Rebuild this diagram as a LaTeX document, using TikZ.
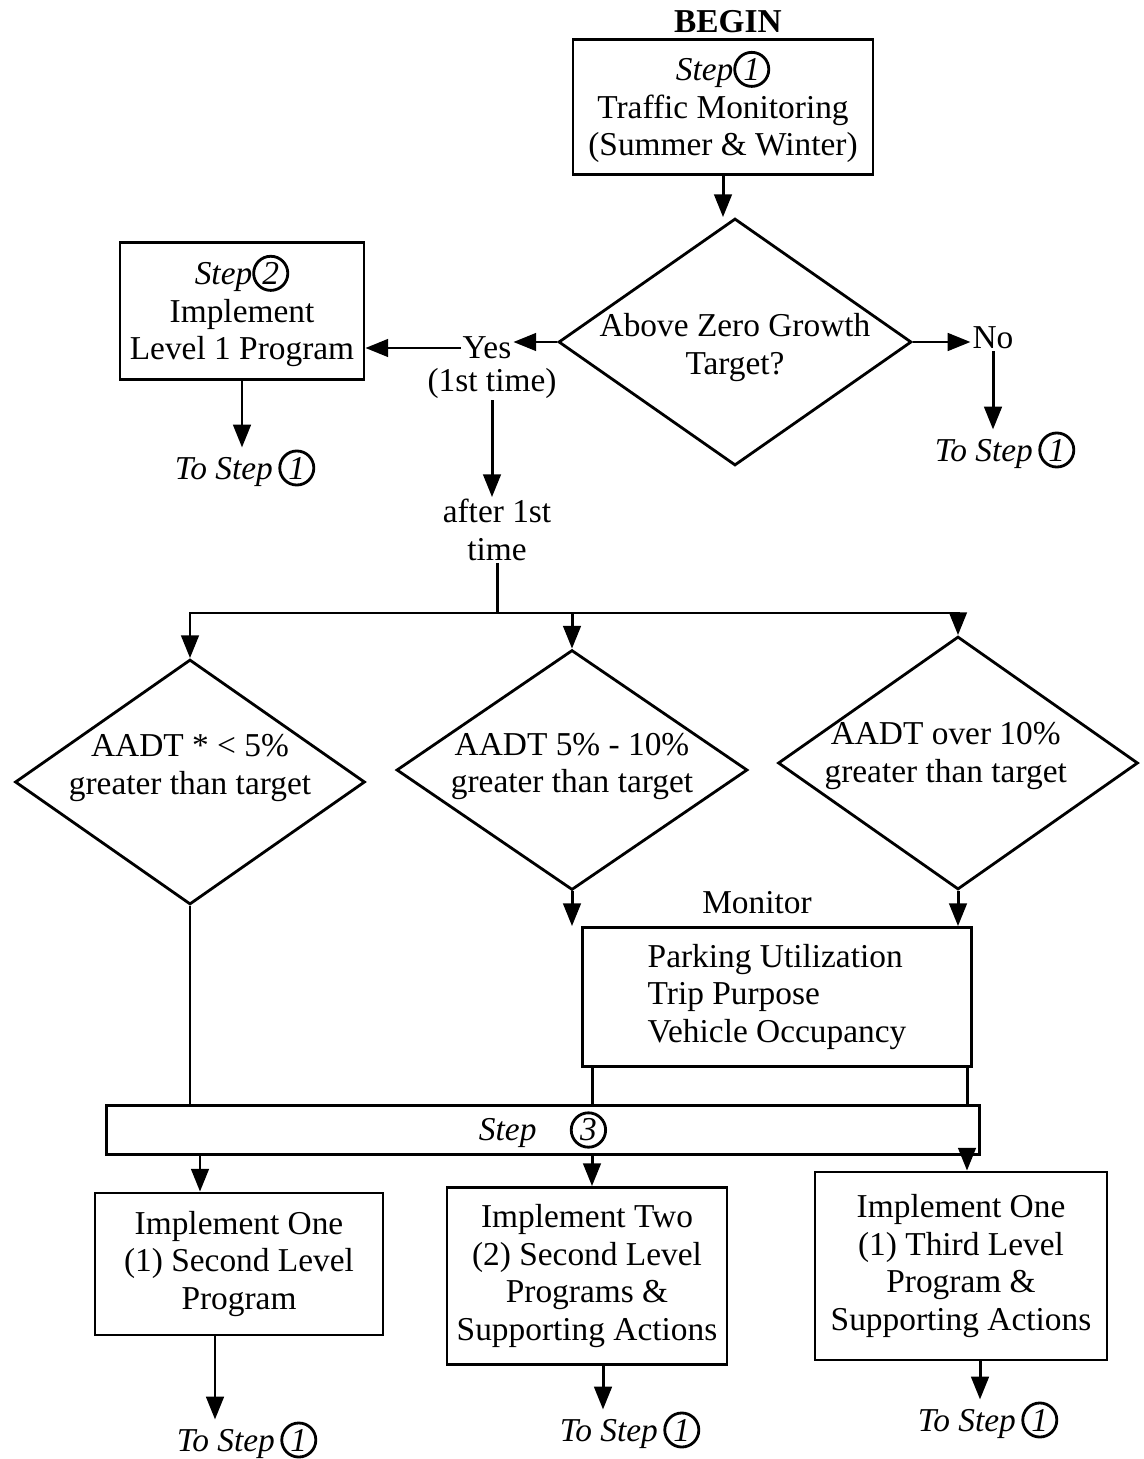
\documentclass[tikz,border=0pt]{standalone}
\usepackage{fontspec}
\setmainfont{Liberation Serif}
\usetikzlibrary{shapes.geometric,arrows.meta,calc}

\newcommand{\stepnum}[1]{\tikz[baseline=(num.base)]\node[draw,circle,line width=1.6pt,inner sep=1.3pt,minimum width=0pt,minimum height=0pt](num){\textit{#1}};}

\begin{document}
\begin{tikzpicture}[x=0.02cm,y=-0.02cm,font=\fontsize{19}{21.5}\selectfont]
        \tikzstyle{stepbox} = [draw, line width=1.6pt, align=center, inner sep=2pt]
        \tikzstyle{decision} = [draw, diamond, line width=1.6pt, inner sep=0pt]
        \tikzstyle{lbl} = [align=center, inner sep=1pt]
        \tikzstyle{line} = [line width=1.7pt]
        \tikzstyle{arr} = [line width=1.7pt, -{Triangle[length=13pt,width=10pt]}]
        \useasboundingbox (0,0) rectangle (1143,1459);

        % top part
        \node[lbl, font=\fontsize{19}{21.5}\selectfont\bfseries] (begin) at (728,22) {BEGIN};
        \node[stepbox, minimum width=6cm, minimum height=2.7cm] (traffic) at (723,107)
            {\textit{Step}\stepnum{1}\\Traffic Monitoring\\(Summer \& Winter)};
        \node[decision, minimum width=7.06cm, minimum height=4.94cm,
            label={[lbl,yshift=-3pt]center:{Above Zero Growth\\Target?}}] (target) at (735,342) {};
        \node[stepbox, minimum width=4.88cm, minimum height=2.74cm] (level1) at (242,311)
            {\textit{Step}\stepnum{2}\\Implement\\Level 1 Program};
        \node[lbl] (yes) at (487,348) {Yes};
        \node[lbl] (first) at (492,383) {(1st time)};
        \node[lbl] (no) at (993,338) {No};
        \node[lbl] (tolevel) at (245,468) {\textit{To Step}\,\stepnum{1}};
        \node[lbl] (tono) at (1005,450) {\textit{To Step}\,\stepnum{1}};
        \node[lbl] (after) at (497,530) {after 1st\\time};
        \coordinate (split) at (497,613);

        \draw[arr] (traffic.south) -- (traffic.south |- target.north);
        \draw[arr] (target.west) -- (target.west -| yes.east);
        \draw[arr] (yes.west) -- (yes.west -| level1.east);
        \draw[arr] (target.east) -- (target.east -| no.west);
        \draw[arr] (no.south) -- (no.south |- tono.north);
        \draw[arr] (level1.south) -- (level1.south |- tolevel.north);
        \draw[arr] (first.south) -- (first.south |- after.north);

        % three growth cases
        \node[decision, minimum width=7cm, minimum height=4.9cm,
            label={[lbl,yshift=8pt]center:{AADT * < 5\%\\greater than target}}] (dlow) at (190,782) {};
        \node[decision, minimum width=7.02cm, minimum height=4.8cm,
            label={[lbl,yshift=2pt]center:{AADT 5\% - 10\%\\greater than target}}] (dmid) at (572,770) {};
        \node[decision, minimum width=7.2cm, minimum height=5.06cm,
            label={[lbl,yshift=4pt,xshift=-7pt]center:{AADT over 10\%\\greater than target}}] (dhigh) at (958,763) {};

        \draw[line] (after.south) -- (split);
        \draw[arr] (split) -| (dlow.north);
        \draw[arr] (split) -| (dhigh.north);
        \draw[arr] (split -| dmid.north) -- (dmid.north);

        % monitoring and step 3
        \node[lbl] (montitle) at (757,903) {Monitor};
        \node[stepbox, align=left, minimum width=7.78cm, minimum height=2.78cm] (monbox) at (777,997)
            {Parking Utilization\\Trip Purpose\\Vehicle Occupancy};
        \node[stepbox, minimum width=17.46cm, minimum height=0.98cm, inner sep=0pt] (bar) at (543,1130)
            {\textit{Step}\quad\stepnum{3}};

        \draw[arr] (dmid.south) -- (dmid.south |- monbox.north);
        \draw[arr] (dhigh.south) -- (dhigh.south |- monbox.north);
        \draw[line] (dlow.south) -- (dlow.south |- bar.north);

        \coordinate (colA) at (200,0);
        \coordinate (colB) at (592,0);
        \coordinate (colC) at (967,0);
        \draw[line] (monbox.south -| colB) -- (bar.north -| colB);
        \draw[line] (monbox.south -| colC) -- (bar.north -| colC);

        % programs
        \node[stepbox, minimum width=5.76cm, minimum height=2.84cm] (one2) at (239,1264)
            {Implement One\\(1) Second Level\\Program};
        \node[stepbox, minimum width=5.6cm, minimum height=3.54cm] (two2) at (587,1276)
            {Implement Two\\(2) Second Level\\Programs \&\\Supporting Actions};
        \node[stepbox, minimum width=5.84cm, minimum height=3.76cm] (one3) at (961,1266)
            {Implement One\\(1) Third Level\\Program \&\\Supporting Actions};
        \node[lbl] (toA) at (247,1440) {\textit{To Step}\,\stepnum{1}};
        \node[lbl] (toB) at (630,1430) {\textit{To Step}\,\stepnum{1}};
        \node[lbl] (toC) at (988,1420) {\textit{To Step}\,\stepnum{1}};

        \foreach \col/\prog in {colA/one2, colB/two2, colC/one3}
            \draw[arr] (bar.south -| \col) -- (\prog.north -| \col);

        \coordinate (outA) at (215,0);
        \coordinate (outB) at (603,0);
        \coordinate (outC) at (980,0);
        \foreach \col/\from/\to in {outA/one2/toA, outB/two2/toB, outC/one3/toC}
            \draw[arr] (\from.south -| \col) -- (\to.north -| \col);
    \end{tikzpicture}
\end{document}
